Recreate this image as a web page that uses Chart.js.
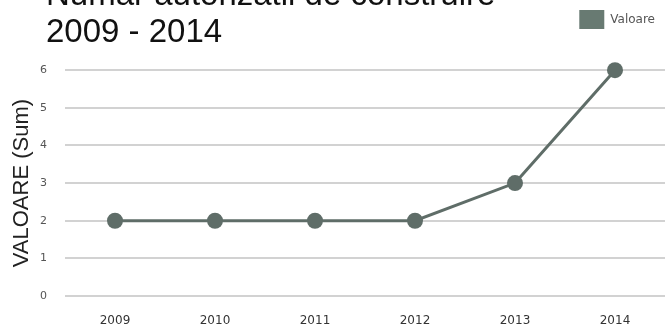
<!DOCTYPE html>
<html>
<head>
<meta charset="utf-8">
<script src="https://cdn.jsdelivr.net/npm/chart.js@4.4.1/dist/chart.umd.min.js"></script>
<style>
html,body{margin:0;padding:0;background:#fff;}
#wrap{width:666px;height:327px;position:relative;overflow:hidden;}
</style>
</head>
<body>
<div id="wrap"><canvas id="c" width="666" height="327"></canvas></div>
<script>
const titleLines = ["Numar autorizatii de construire", "2009 - 2014"];
const categories = ["2009", "2010", "2011", "2012", "2013", "2014"];
const seriesName = "Valoare";
const values = [2, 2, 2, 2, 3, 6];
const yTicks = [0, 1, 2, 3, 4, 5, 6];
const yAxisTitle = "VALOARE (Sum)";

const lineColor = "#5f6d68";
const legendColor = "#687a72";

const titlePlugin = {
  id: "cutTitle",
  afterDraw(chart) {
    const ctx = chart.ctx;
    ctx.save();
    ctx.font = '33px "Liberation Sans", Arial, sans-serif';
    ctx.fillStyle = "#111";
    ctx.textAlign = "left";
    ctx.textBaseline = "alphabetic";
    ctx.fillText(titleLines[0], 46, 5);
    ctx.fillText(titleLines[1], 46, 42);
    ctx.restore();
  }
};

new Chart(document.getElementById("c"), {
  type: "line",
  data: {
    labels: categories,
    datasets: [{
      label: seriesName,
      data: values,
      borderColor: lineColor,
      backgroundColor: legendColor,
      borderWidth: 3,
      pointRadius: 8,
      pointHoverRadius: 8,
      pointBackgroundColor: lineColor,
      pointBorderColor: lineColor,
      pointBorderWidth: 0,
      tension: 0,
      clip: false
    }]
  },
  options: {
    responsive: false,
    animation: false,
    layout: { autoPadding: false, padding: { top: 0, right: 1, left: 0, bottom: 0 } },
    plugins: {
      legend: {
        display: true,
        position: "top",
        align: "end",
        labels: {
          boxWidth: 25,
          boxHeight: 19,
          padding: 10,
          color: "#555",
          generateLabels(chart) {
            const items = Chart.defaults.plugins.legend.labels.generateLabels(chart);
            items.forEach(i => { i.lineWidth = 0; });
            return items;
          },
          font: { family: '"DejaVu Sans", Verdana, sans-serif', size: 12 }
        }
      },
      subtitle: {
        display: true,
        text: "",
        weight: 500,
        font: { size: 1 },
        padding: { top: 30, bottom: 0 }
      },
      title: { display: false },
      tooltip: { enabled: false }
    },
    scales: {
      x: {
        offset: true,
        grid: { display: false, drawTicks: true, tickLength: 18 },
        border: { display: false },
        ticks: {
          color: "#333",
          padding: 0,
          maxRotation: 0,
          font: { family: '"DejaVu Sans", Verdana, sans-serif', size: 12 }
        },
        afterFit(s) { s.height = 31; s.paddingLeft = 0; s.paddingRight = 0; }
      },
      y: {
        min: 0,
        max: 6,
        afterBuildTicks(s) { s.ticks = yTicks.map(v => ({ value: v })); },
        grid: { color: "#d2d2d2", lineWidth: 2, drawTicks: false },
        border: { display: false },
        ticks: {
          color: "#555",
          padding: 18,
          font: { family: '"DejaVu Sans", Verdana, sans-serif', size: 11 }
        },
        title: {
          display: true,
          text: yAxisTitle,
          color: "#222",
          padding: { top: 9, bottom: 0 },
          font: { family: '"Liberation Sans", Arial, sans-serif', size: 22 }
        },
        afterFit(s) { s.width = 65; }
      }
    }
  },
  plugins: [titlePlugin]
});
</script>
</body>
</html>
